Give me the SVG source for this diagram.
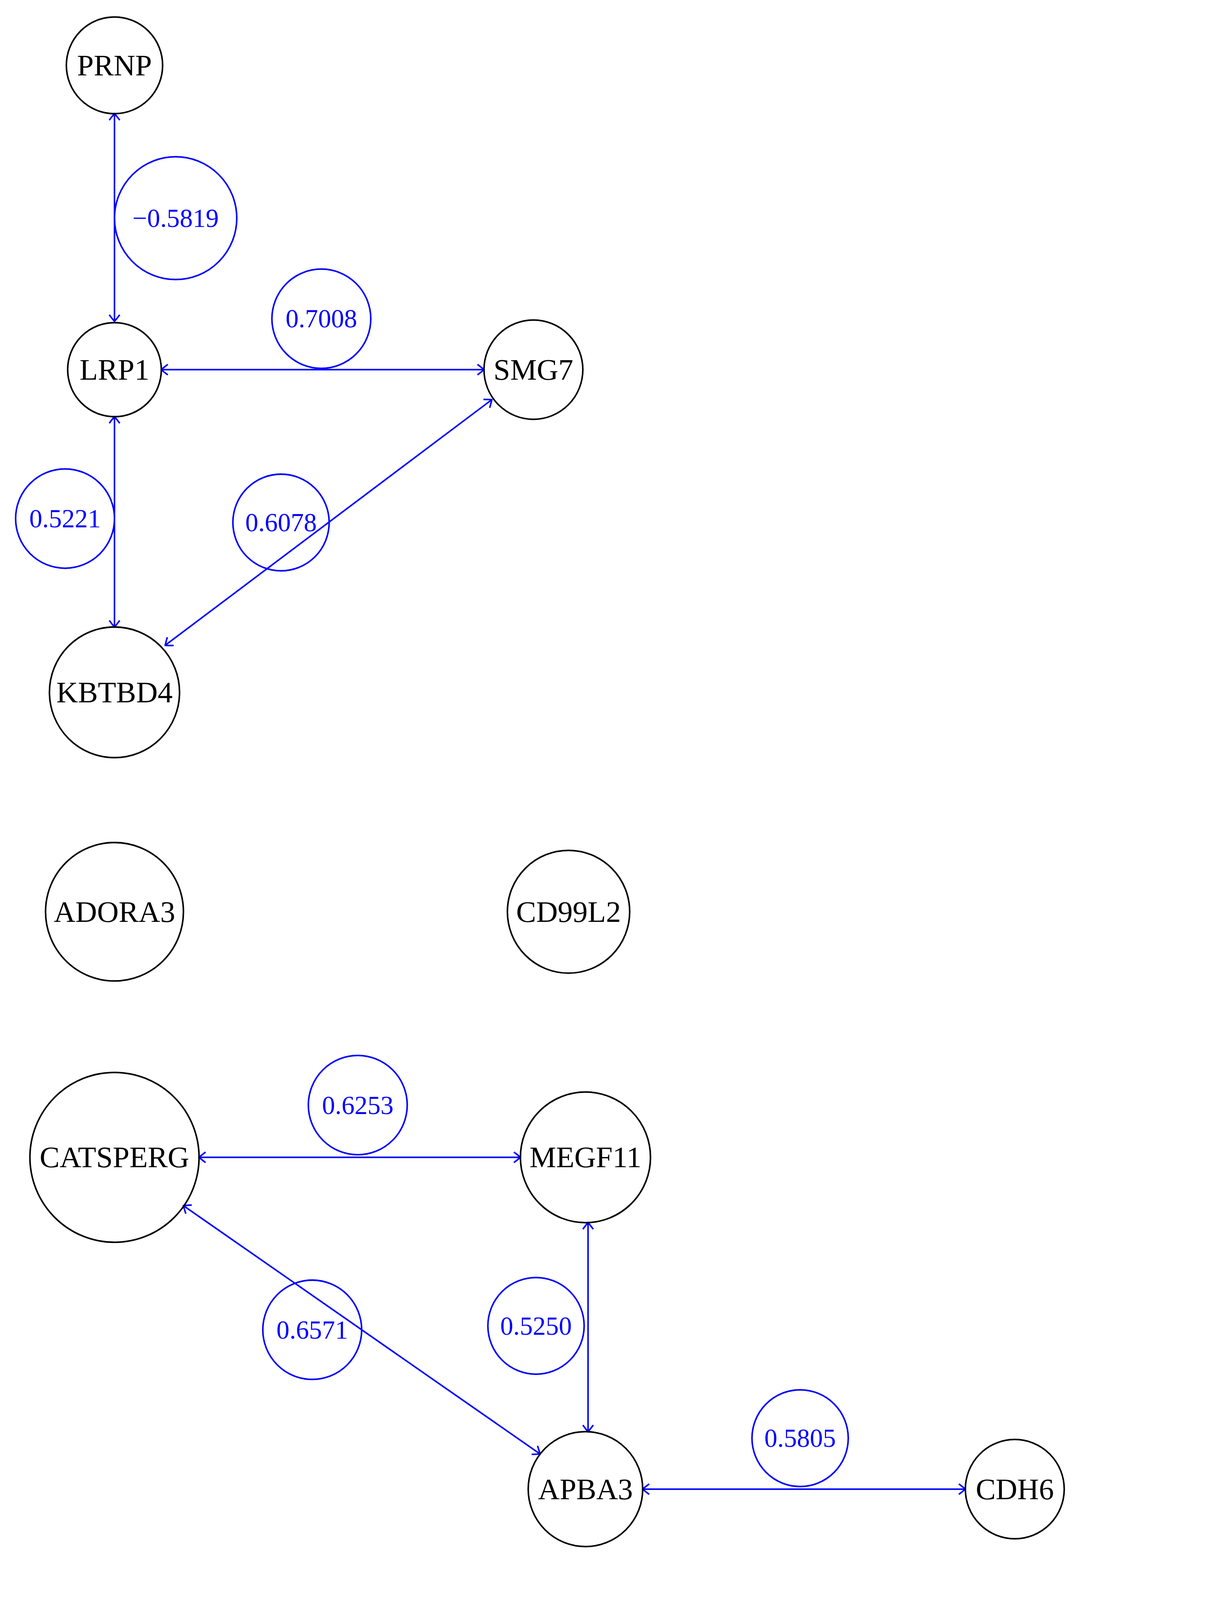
<svg xmlns="http://www.w3.org/2000/svg" width="3098" height="5244" viewBox="0 0 3098 5244">
<style>
.n circle{fill:none;stroke:#000;stroke-width:1.2}
.n text{font-family:"Liberation Serif",serif;font-size:23px;fill:#000;text-anchor:middle;dominant-baseline:central}
.l circle{fill:none;stroke:#00f;stroke-width:1.2}
.l text{font-family:"Liberation Serif",serif;font-size:20px;fill:#00f;text-anchor:middle;dominant-baseline:central}
#edges line{stroke:#00f;stroke-width:1.2;marker-start:url(#ar);marker-end:url(#ar)}
</style>
<defs>
<marker id="ar" viewBox="-6 -5 8 10" markerWidth="8" markerHeight="10" refX="0" refY="0" orient="auto-start-reverse" markerUnits="userSpaceOnUse">
<path d="M-5,-4 Q-1,-1 0,0 Q-1,1 -5,4" fill="none" stroke="#00f" stroke-width="1.2"/>
</marker>
</defs>
<rect width="3098" height="5244" fill="#fff"/>
<g transform="scale(3.331,3.344)">
<g id="edges">
<line x1="88" y1="87" x2="88" y2="246"/>
<line x1="124" y1="283" x2="372" y2="283"/>
<line x1="88" y1="319" x2="88" y2="480"/>
<line x1="378" y1="306" x2="127" y2="494"/>
<line x1="153" y1="886" x2="400" y2="886"/>
<line x1="141" y1="923" x2="415" y2="1113"/>
<line x1="452" y1="936" x2="452" y2="1096"/>
<line x1="494" y1="1140" x2="742" y2="1140"/>
<line x1="505" y1="1305" x2="752" y2="1305"/>
<line x1="165" y1="1462" x2="414" y2="1462"/>
<line x1="486" y1="1462" x2="734" y2="1462"/>
</g>
<g id="PRNP" class="n"><circle cx="88" cy="50" r="37"/><text x="88" y="50">PRNP</text></g>
<g id="LRP1" class="n"><circle cx="88" cy="283" r="36"/><text x="88" y="283">LRP1</text></g>
<g id="SMG7" class="n"><circle cx="410" cy="283" r="38"/><text x="410" y="283">SMG7</text></g>
<g id="KBTBD4" class="n"><circle cx="88" cy="530" r="50"/><text x="88" y="530">KBTBD4</text></g>
<g id="ADORA3" class="n"><circle cx="88" cy="698" r="53"/><text x="88" y="698">ADORA3</text></g>
<g id="CD99L2" class="n"><circle cx="437" cy="698" r="47"/><text x="437" y="698">CD99L2</text></g>
<g id="CATSPERG" class="n"><circle cx="88" cy="886" r="65"/><text x="88" y="886">CATSPERG</text></g>
<g id="MEGF11" class="n"><circle cx="450" cy="886" r="50"/><text x="450" y="886">MEGF11</text></g>
<g id="APBA3" class="n"><circle cx="450" cy="1140" r="44"/><text x="450" y="1140">APBA3</text></g>
<g id="CDH6" class="n"><circle cx="780" cy="1140" r="38"/><text x="780" y="1140">CDH6</text></g>
<g id="CRCP" class="n"><circle cx="110" cy="1305" r="37"/><text x="110" y="1305">CRCP</text></g>
<g id="ITPRIPL2" class="n"><circle cx="450" cy="1305" r="55"/><text x="450" y="1305">ITPRIPL2</text></g>
<g id="GOLGA3" class="n"><circle cx="805" cy="1305" r="53"/><text x="805" y="1305">GOLGA3</text></g>
<g id="ATP11B" class="n"><circle cx="865" cy="1375" r="47"/><text x="865" y="1375">ATP11B</text></g>
<g id="DNAJA1" class="n"><circle cx="115" cy="1462" r="50"/><text x="115" y="1462">DNAJA1</text></g>
<g id="TSC1" class="n"><circle cx="450" cy="1462" r="36"/><text x="450" y="1462">TSC1</text></g>
<g id="HDDC3" class="n"><circle cx="772" cy="1462" r="38"/><text x="772" y="1462">HDDC3</text></g>
<g id="labels">
<g class="l"><circle cx="135" cy="167" r="47"/><text x="135" y="167">−0.5819</text></g>
<g class="l"><circle cx="247" cy="244" r="38"/><text x="247" y="244">0.7008</text></g>
<g class="l"><circle cx="50" cy="397" r="38"/><text x="50" y="397">0.5221</text></g>
<g class="l"><circle cx="216" cy="400" r="37"/><text x="216" y="400">0.6078</text></g>
<g class="l"><circle cx="275" cy="846" r="38"/><text x="275" y="846">0.6253</text></g>
<g class="l"><circle cx="240" cy="1018" r="38"/><text x="240" y="1018">0.6571</text></g>
<g class="l"><circle cx="412" cy="1015" r="37"/><text x="412" y="1015">0.5250</text></g>
<g class="l"><circle cx="615" cy="1101" r="37"/><text x="615" y="1101">0.5805</text></g>
<g class="l"><circle cx="628" cy="1266" r="37"/><text x="628" y="1266">0.7261</text></g>
<g class="l"><circle cx="290" cy="1510" r="47"/><text x="290" y="1510">−0.5416</text></g>
<g class="l"><circle cx="610" cy="1510" r="47"/><text x="610" y="1510">−0.6215</text></g>
</g>
</g>
</svg>
